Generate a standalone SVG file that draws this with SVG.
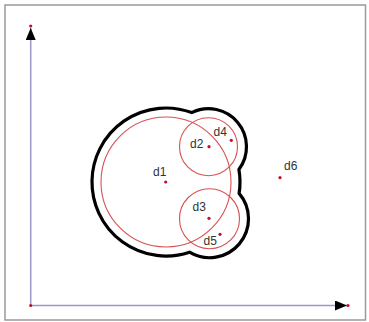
<svg xmlns="http://www.w3.org/2000/svg" width="369" height="322" viewBox="0 0 369 322">
<style>
.lbl{font-family:"Liberation Sans",Arial,sans-serif;font-size:12px;fill:#333}
.dot{fill:#c0102a}
.ring{fill:none;stroke:#d85050;stroke-width:1.1}
.axis{stroke:#9a98c8;stroke-width:1.5;fill:none}
</style>
<defs>
<marker id="arr" viewBox="0 0 12 10" refX="12" refY="5" markerWidth="12" markerHeight="10" markerUnits="userSpaceOnUse" orient="auto">
<path d="M0,0 L12,5 L0,10 Z" fill="#000"/>
</marker>
</defs>
<rect x="0" y="0" width="369" height="322" fill="#fff"/>
<rect x="5" y="5" width="360.5" height="315" fill="none" stroke="#9a9a9a" stroke-width="1.5"/>
<g id="connectors">
<line class="axis" x1="30.7" y1="305.5" x2="30.7" y2="28" marker-end="url(#arr)"/>
<line class="axis" x1="30.7" y1="305.5" x2="347" y2="305.5" marker-end="url(#arr)"/>
<circle class="dot" cx="30.7" cy="26" r="1.6"/>
<circle class="dot" cx="30.7" cy="305.5" r="1.6"/>
<circle class="dot" cx="348" cy="305.5" r="1.6"/>
</g>
<g id="outline">
<path d="M191.7,112.62 A74,74 0 1 0 189.49,252.18 A39,39 0 0 0 239.13,193.34 A74,74 0 0 0 238.92,169.46 A38,38 0 0 0 191.7,112.62 Z" fill="none" stroke="#000" stroke-width="3.2"/>
</g>
<g id="d1">
<circle class="ring" cx="166" cy="182" r="65"/>
<circle class="dot" cx="165.7" cy="182" r="1.6"/>
<text class="lbl" x="153" y="176">d1</text>
</g>
<g id="d2">
<circle class="ring" cx="208.5" cy="146.7" r="29"/>
<circle class="dot" cx="209" cy="146.7" r="1.6"/>
<text class="lbl" x="190" y="148">d2</text>
</g>
<g id="d3">
<circle class="ring" cx="209.5" cy="218.7" r="30"/>
<circle class="dot" cx="209" cy="218.3" r="1.6"/>
<text class="lbl" x="192.5" y="211">d3</text>
</g>
<g id="d4">
<circle class="dot" cx="231.3" cy="140.3" r="1.6"/>
<text class="lbl" x="213.5" y="136">d4</text>
</g>
<g id="d5">
<circle class="dot" cx="220" cy="234.3" r="1.6"/>
<text class="lbl" x="203.5" y="244.5">d5</text>
</g>
<g id="d6">
<circle class="dot" cx="280" cy="177.7" r="1.6"/>
<text class="lbl" x="284" y="170">d6</text>
</g>
</svg>
